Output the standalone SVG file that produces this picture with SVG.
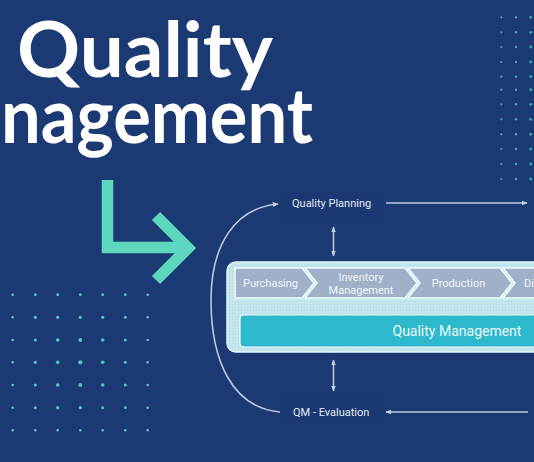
<svg xmlns="http://www.w3.org/2000/svg" width="534" height="462" viewBox="0 0 534 462">
<defs>
<style>
.title{font-family:Lato,"Liberation Sans",sans-serif;font-weight:700;font-size:77px;fill:#ffffff}
.lbl{font-family:Roboto,"Liberation Sans",sans-serif;font-size:11px;fill:#e4eaf2}
.step{font-family:Roboto,"Liberation Sans",sans-serif;font-size:11px;fill:#f2f5f9;text-anchor:middle}
.qm{font-family:Roboto,"Liberation Sans",sans-serif;font-size:14px;fill:#eaf8fb}
.chev{fill:#9fb0c8;stroke:#f4fbfd;stroke-width:1.5;stroke-linejoin:miter}
.conn{stroke:#bcc8d9;stroke-width:1.6;fill:none}
.dotL{fill:#4ccbb6}
.dotR{fill:#3aaeae}
</style>
<marker id="ah" viewBox="0 0 10 10" refX="9" refY="5" markerWidth="6" markerHeight="6" orient="auto-start-reverse" markerUnits="userSpaceOnUse">
<path d="M0,1 L10,5 L0,9 Z" fill="#c6d1e0"/>
</marker>
<pattern id="tex" width="3" height="3" patternUnits="userSpaceOnUse">
<rect width="3" height="3" fill="#c4e7ee"/>
<rect x="1" y="1" width="1" height="1" fill="#a9d7e2"/>
</pattern>
</defs>
<rect width="534" height="462" fill="#1b3a74"/>

<g id="title">
<text class="title" x="17" y="77" textLength="256" lengthAdjust="spacingAndGlyphs">Quality</text>
<text class="title" x="1" y="143" textLength="312" lengthAdjust="spacingAndGlyphs">nagement</text>
</g>

<g id="green-arrow" fill="none" stroke="#5ed7bf" stroke-width="11.5" stroke-linejoin="miter">
<path d="M107.5,180 V247.5 H188"/>
<path d="M156,216 L188,248 L156,280"/>
</g>

<g id="dots-left">
<g class="dotL">
<circle cx="12.7" cy="294.7" r="1.3"/><circle cx="35.3" cy="294.7" r="1.4"/><circle cx="57.7" cy="294.7" r="1.4"/><circle cx="80.3" cy="294.7" r="1.4"/><circle cx="102.7" cy="294.7" r="1.4"/><circle cx="125.3" cy="294.7" r="1.4"/><circle cx="147.7" cy="294.7" r="1.3"/>
<circle cx="12.7" cy="317.3" r="1.3"/><circle cx="35.3" cy="317.3" r="1.6"/><circle cx="57.7" cy="317.3" r="1.6"/><circle cx="80.3" cy="317.3" r="1.6"/><circle cx="102.7" cy="317.3" r="1.6"/><circle cx="125.3" cy="317.3" r="1.5"/><circle cx="147.7" cy="317.3" r="1.3"/>
<circle cx="12.7" cy="340" r="1.3"/><circle cx="35.3" cy="340" r="1.6"/><circle cx="57.7" cy="340" r="1.8"/><circle cx="80.3" cy="340" r="1.9"/><circle cx="102.7" cy="340" r="1.8"/><circle cx="125.3" cy="340" r="1.5"/><circle cx="147.7" cy="340" r="1.3"/>
<circle cx="12.7" cy="362.3" r="1.3"/><circle cx="35.3" cy="362.3" r="1.6"/><circle cx="57.7" cy="362.3" r="1.8"/><circle cx="80.3" cy="362.3" r="2.1"/><circle cx="102.7" cy="362.3" r="1.8"/><circle cx="125.3" cy="362.3" r="1.5"/><circle cx="147.7" cy="362.3" r="1.3"/>
<circle cx="12.7" cy="385" r="1.3"/><circle cx="35.3" cy="385" r="1.6"/><circle cx="57.7" cy="385" r="1.8"/><circle cx="80.3" cy="385" r="1.9"/><circle cx="102.7" cy="385" r="1.8"/><circle cx="125.3" cy="385" r="1.5"/><circle cx="147.7" cy="385" r="1.3"/>
<circle cx="12.7" cy="407.7" r="1.3"/><circle cx="35.3" cy="407.7" r="1.5"/><circle cx="57.7" cy="407.7" r="1.6"/><circle cx="80.3" cy="407.7" r="1.6"/><circle cx="102.7" cy="407.7" r="1.5"/><circle cx="125.3" cy="407.7" r="1.4"/><circle cx="147.7" cy="407.7" r="1.3"/>
<circle cx="12.7" cy="430.3" r="1.3"/><circle cx="35.3" cy="430.3" r="1.3"/><circle cx="57.7" cy="430.3" r="1.3"/><circle cx="80.3" cy="430.3" r="1.3"/><circle cx="102.7" cy="430.3" r="1.3"/><circle cx="125.3" cy="430.3" r="1.3"/><circle cx="147.7" cy="430.3" r="1.3"/>
</g>
</g>

<g id="dots-right" class="dotR">
<circle cx="501.3" cy="17.3" r="1.1"/><circle cx="516" cy="17.3" r="1.2"/><circle cx="530.7" cy="17.3" r="1.4"/>
<circle cx="501.3" cy="32.3" r="1.1"/><circle cx="516" cy="32.3" r="1.2"/><circle cx="530.7" cy="32.3" r="1.4"/>
<circle cx="501.3" cy="47" r="1.1"/><circle cx="516" cy="47" r="1.2"/><circle cx="530.7" cy="47" r="1.4"/>
<circle cx="501.3" cy="62" r="1.1"/><circle cx="516" cy="62" r="1.2"/><circle cx="530.7" cy="62" r="1.4"/>
<circle cx="501.3" cy="76.7" r="1.1"/><circle cx="516" cy="76.7" r="1.2"/><circle cx="530.7" cy="76.7" r="1.4"/>
<circle cx="501.3" cy="89.7" r="1.1"/><circle cx="516" cy="89.7" r="1.2"/><circle cx="530.7" cy="89.7" r="1.4"/>
<circle cx="501.3" cy="104.3" r="1.1"/><circle cx="516" cy="104.3" r="1.2"/><circle cx="530.7" cy="104.3" r="1.4"/>
<circle cx="501.3" cy="119.3" r="1.1"/><circle cx="516" cy="119.3" r="1.2"/><circle cx="530.7" cy="119.3" r="1.4"/>
<circle cx="501.3" cy="134.3" r="1.1"/><circle cx="516" cy="134.3" r="1.2"/><circle cx="530.7" cy="134.3" r="1.4"/>
<circle cx="501.3" cy="149" r="1.1"/><circle cx="516" cy="149" r="1.2"/><circle cx="530.7" cy="149" r="1.4"/>
<circle cx="501.3" cy="164" r="1.1"/><circle cx="516" cy="164" r="1.2"/><circle cx="530.7" cy="164" r="1.4"/>
<circle cx="501.3" cy="179" r="1.1"/><circle cx="516" cy="179" r="1.2"/><circle cx="530.7" cy="179" r="1.4"/>
</g>

<g id="connectors">
<path class="conn" d="M280,412 C232,408 211,360 211,300 C211,245 235,208 278,204" marker-end="url(#ah)"/>
<line class="conn" x1="386" y1="203" x2="527" y2="203" marker-end="url(#ah)"/>
<line class="conn" x1="528" y1="412" x2="386" y2="412" marker-end="url(#ah)"/>
<line class="conn" x1="333.5" y1="227" x2="333.5" y2="256" marker-start="url(#ah)" marker-end="url(#ah)"/>
<line class="conn" x1="333.5" y1="360" x2="333.5" y2="391" marker-start="url(#ah)" marker-end="url(#ah)"/>
</g>

<g id="quality-planning">
<rect x="281" y="192" width="102" height="25" fill="#1a3871"/>
<text class="lbl" x="292" y="207">Quality Planning</text>
</g>

<g id="qm-evaluation">
<rect x="282" y="397" width="101" height="22" fill="#1a3871"/>
<text class="lbl" x="293" y="415.5">QM - Evaluation</text>
</g>

<g id="process-box">
<rect x="227" y="262" width="330" height="90" rx="9" fill="url(#tex)" stroke="#e6f5f8" stroke-width="1.5"/>
</g>

<g id="purchasing">
<path class="chev" d="M235,268 H302 L314,283 L302,298 H235 Z"/>
<text class="step" x="270.5" y="287">Purchasing</text>
</g>
<g id="inventory-management">
<path class="chev" d="M305,268 H405 L417,283 L405,298 H305 L317,283 Z"/>
<text class="step" x="361" y="281">Inventory</text>
<text class="step" x="361" y="294">Management</text>
</g>
<g id="production">
<path class="chev" d="M408,268 H500 L512,283 L500,298 H408 L420,283 Z"/>
<text class="step" x="458.5" y="287">Production</text>
</g>
<g id="distribution">
<path class="chev" d="M503,268 H540 V298 H503 L515,283 Z"/>
<text class="lbl" x="524" y="287" style="fill:#f2f5f9">Di</text>
</g>

<g id="quality-management">
<rect x="240" y="315" width="310" height="32" rx="4" fill="#2eb8cb" stroke="#eef9fb" stroke-width="1.2"/>
<text class="qm" x="392.5" y="336">Quality Management</text>
</g>
</svg>
